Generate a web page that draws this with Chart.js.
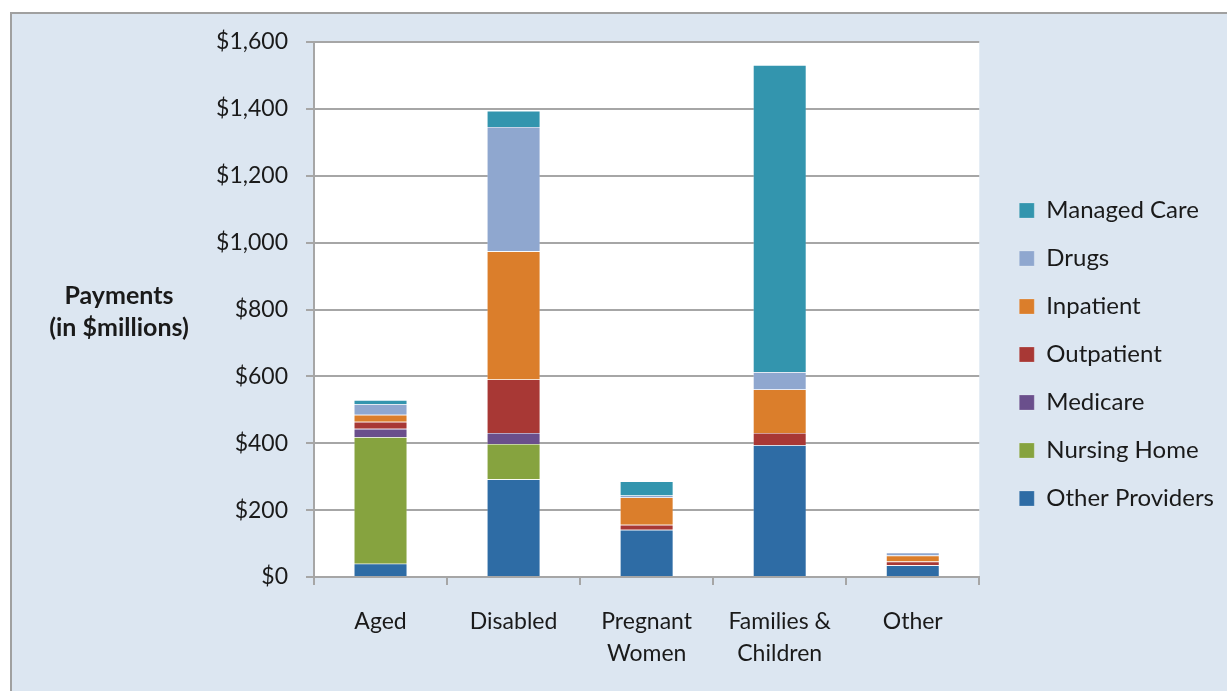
<!DOCTYPE html>
<html>
<head>
<meta charset="utf-8">
<script src="https://cdn.jsdelivr.net/npm/chart.js@4/dist/chart.umd.min.js"></script>
<style>
  html, body { margin: 0; padding: 0; background: #ffffff; overflow: hidden; }
  #frame {
    position: absolute; left: 10px; top: 12px; width: 1240px; height: 700px;
    background: #dce6f1; border: 2px solid #a0a0a0; box-sizing: border-box;
  }
  #wrap { position: absolute; left: 0; top: 0; width: 1227px; height: 691px; }
</style>
</head>
<body>
<div id="frame"></div>
<div id="wrap"><canvas id="chart" width="1227" height="691"></canvas></div>
<script>
// Medicaid payments by eligibility group, in $ millions
const groups = [['Aged'], ['Disabled'], ['Pregnant', 'Women'], ['Families &', 'Children'], ['Other']];

const otherProviders = [40, 292, 141, 394, 35];
const nursingHome    = [378, 106, 0, 0, 0];
const medicare       = [25, 33, 0, 0, 0];
const outpatient     = [21, 160, 15, 37, 11];
const inpatient      = [21, 383, 82, 130, 18];
const drugs          = [32, 372, 6, 52, 9];
const managedCare    = [12, 48, 42, 918, 0];

const yTicks = [0, 200, 400, 600, 800, 1000, 1200, 1400, 1600];

const FONT = 'Lato, "Open Sans", sans-serif';

// Empty layout box above the plot; it pushes the plot down without moving the legend
function spacer(id, position, size, weight, fullSize) {
  return {
    id,
    beforeInit(chart) {
      Chart.layouts.addBox(chart, {
        position, weight, fullSize,
        options: {},
        left: 0, top: 0, right: 0, bottom: 0, width: 0, height: 0,
        isHorizontal() { return position === 'top' || position === 'bottom'; },
        update(maxWidth, maxHeight) {
          if (this.isHorizontal()) { this.width = maxWidth; this.height = size; }
          else { this.width = size; this.height = maxHeight; }
        },
        draw() {}
      });
    }
  };
}

// Leave a wider gap between the plot and the legend
const legendShift = {
  id: 'legendShift',
  afterLayout(chart) {
    const lg = chart.legend;
    if (lg) { lg.left += 16; lg.right += 16; }
  }
};

// White plot-area fill
const plotBackground = {
  id: 'plotBackground',
  beforeDraw(chart) {
    const { ctx, chartArea: a } = chart;
    ctx.save();
    ctx.fillStyle = '#ffffff';
    ctx.fillRect(a.left, a.top, a.right - a.left, a.bottom - a.top);
    ctx.restore();
  }
};

// Horizontal value-axis title to the left of the tick labels
const sideTitle = {
  id: 'sideTitle',
  afterDraw(chart) {
    const { ctx } = chart;
    ctx.save();
    ctx.fillStyle = '#1a1a1a';
    ctx.font = 'bold 25px ' + FONT;
    ctx.textAlign = 'center';
    ctx.textBaseline = 'middle';
    ctx.fillText('Payments', 119, 296);
    ctx.fillText('(in $millions)', 119, 328);
    ctx.restore();
  }
};

const series = [
  { label: 'Other Providers', data: otherProviders, backgroundColor: '#2e6ca5' },
  { label: 'Nursing Home',    data: nursingHome,    backgroundColor: '#86a33f' },
  { label: 'Medicare',        data: medicare,       backgroundColor: '#6a4f8c' },
  { label: 'Outpatient',      data: outpatient,     backgroundColor: '#a83835' },
  { label: 'Inpatient',       data: inpatient,      backgroundColor: '#db7e2b' },
  { label: 'Drugs',           data: drugs,          backgroundColor: '#8fa7cf' },
  { label: 'Managed Care',    data: managedCare,    backgroundColor: '#3395ae' }
];

new Chart(document.getElementById('chart'), {
  type: 'bar',
  data: {
    labels: groups,
    datasets: series.map(s => ({
      ...s,
      borderColor: 'rgba(255,255,255,0.35)',
      borderWidth: 0.6,
      barPercentage: 0.4,
      categoryPercentage: 1
    }))
  },
  options: {
    responsive: false,
    animation: false,
    layout: { padding: { left: 10, top: 18, right: 19, bottom: 0 } },
    plugins: {
      tooltip: { enabled: false },
      legend: {
        position: 'right',
        reverse: true,
        labels: {
          font: { family: FONT, size: 24 },
          color: '#1a1a1a',
          boxWidth: 15,
          boxHeight: 15,
          padding: 24
        }
      }
    },
    scales: {
      x: {
        stacked: true,
        offset: true,
        afterFit(scale) { scale.height = 114; },
        border: { display: true, color: '#a6a6a6', width: 2 },
        grid: {
          offset: true,
          drawOnChartArea: false,
          drawTicks: true,
          tickLength: 8,
          color: '#a6a6a6',
          lineWidth: 2
        },
        ticks: {
          font: { family: FONT, size: 23, lineHeight: 1.4 },
          color: '#1a1a1a',
          padding: 20,
          maxRotation: 0
        }
      },
      y: {
        stacked: true,
        min: 0,
        max: 1600,
        afterFit(scale) { scale.width = 304; },
        afterBuildTicks(scale) { scale.ticks = yTicks.map(v => ({ value: v })); },
        border: { display: true, color: '#a6a6a6', width: 2 },
        grid: {
          color: '#a6a6a6',
          lineWidth: 2,
          tickLength: 8
        },
        ticks: {
          font: { family: FONT, size: 23 },
          color: '#1a1a1a',
          padding: 18,
          callback: v => '$' + v.toLocaleString('en-US')
        }
      }
    }
  },
  plugins: [
    plotBackground,
    sideTitle,
    legendShift,
    spacer('topGap', 'top', 24, 10, false)
  ]
});
</script>
</body>
</html>
